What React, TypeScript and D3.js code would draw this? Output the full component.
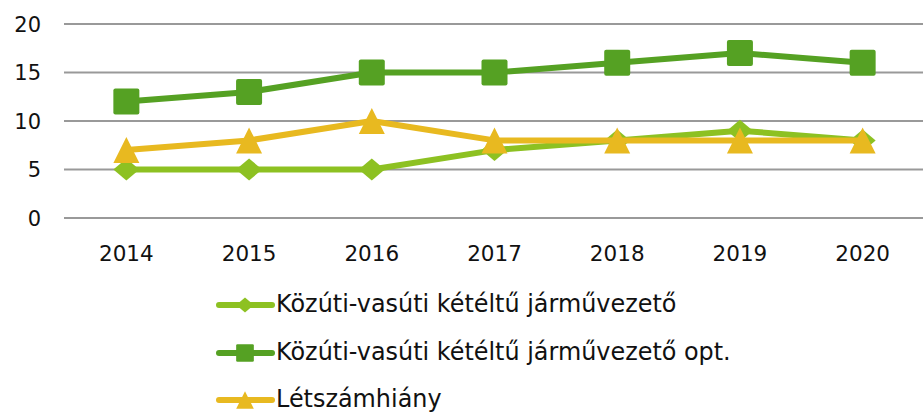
import React from "react";
import * as d3 from "d3";

const years = ["2014", "2015", "2016", "2017", "2018", "2019", "2020"];
const seriesNames = [
  "Közúti-vasúti kétéltű járművezető",
  "Közúti-vasúti kétéltű járművezető opt.",
  "Létszámhiány",
];
const lightGreen = [5, 5, 5, 7, 8, 9, 8];
const darkGreen = [12, 13, 15, 15, 16, 17, 16];
const yellow = [7, 8, 10, 8, 8, 8, 8];
const yTicks = [0, 5, 10, 15, 20];

const colors = ["#8DC122", "#55A123", "#E8B920"];
const shapes = ["diamond", "square", "triangle"];

function Marker({ shape, x, y, color, k = 1 }: { shape: string; x: number; y: number; color: string; k?: number }) {
  if (shape === "square") {
    const s = 13 * k;
    return <rect x={x - s} y={y - s} width={2 * s} height={2 * s} rx={2 * k} fill={color} />;
  }
  if (shape === "diamond") {
    const w = 13 * k;
    const h = 11 * k;
    return <path d={`M${x},${y - h}L${x + w},${y}L${x},${y + h}L${x - w},${y}Z`} fill={color} />;
  }
  const w = 13 * k;
  const h = 13 * k;
  return <path d={`M${x},${y - h}L${x + w},${y + h}L${x - w},${y + h}Z`} fill={color} />;
}

export default function App() {
  const W = 923;
  const H = 413;
  const x = d3.scaleBand<string>().domain(years).range([65, 924]);
  const y = d3.scaleLinear().domain([0, 20]).range([218, 24]);
  const data = [lightGreen, darkGreen, yellow];
  const cx = (i: number) => (x(years[i]) as number) + x.bandwidth() / 2;
  const line = d3
    .line<number>()
    .x((_, i) => cx(i))
    .y((d) => y(d));
  const font = "'DejaVu Sans', sans-serif";
  const legendBase = [312, 360, 407];
  return (
    <svg
      width={W}
      height={H}
      style={{ position: "absolute", left: 0, top: 0, background: "#fff" }}
      fontFamily={font}
    >
      {yTicks.map((t) => (
        <g key={t}>
          <line x1={64} x2={923} y1={y(t)} y2={y(t)} stroke="#999" strokeWidth={2} />
          <text x={41} y={y(t)} dy="0.36em" textAnchor="end" fontSize={21} fill="#111">
            {t}
          </text>
        </g>
      ))}
      {years.map((yr, i) => (
        <text key={yr} x={cx(i)} y={261} textAnchor="middle" fontSize={21.5} fill="#111">
          {yr}
        </text>
      ))}
      {data.map((d, si) => (
        <g key={si}>
          <path d={line(d) || ""} fill="none" stroke={colors[si]} strokeWidth={6} strokeLinejoin="round" />
          {d.map((v, i) => (
            <Marker key={i} shape={shapes[si]} x={cx(i)} y={y(v)} color={colors[si]} />
          ))}
        </g>
      ))}
      {seriesNames.map((name, si) => {
        const ly = legendBase[si] - 7;
        return (
          <g key={name}>
            <line
              x1={219}
              x2={272}
              y1={ly}
              y2={ly}
              stroke={colors[si]}
              strokeWidth={6}
              strokeLinecap="round"
            />
            <Marker shape={shapes[si]} x={245} y={ly} color={colors[si]} k={0.68} />
            <text x={276} y={legendBase[si]} fontSize={23.9} fill="#111">
              {name}
            </text>
          </g>
        );
      })}
    </svg>
  );
}
